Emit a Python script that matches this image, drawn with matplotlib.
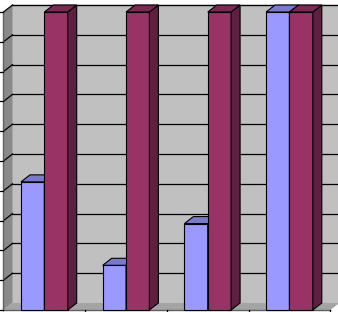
import matplotlib
matplotlib.use("Agg")
import matplotlib.pyplot as plt
from matplotlib.patches import Polygon

# data (axis 0..100)
categories = ["1", "2", "3", "4"]
series_a = [43, 15, 29, 100]
series_b = [100, 100, 100, 100]
grid_values = [10, 20, 30, 40, 50, 60, 70, 80, 90, 100]

# fake 3d depth offset in data units
dx = 0.11
dy = 2.35
w = 1 / 3.5
gap = 0.75 / 3.5

fig = plt.figure(figsize=(3.38, 3.12), dpi=100)
ax = fig.add_axes([0, 0, 1, 1])
ax.set_xlim(-0.0428, 4.094)
ax.set_ylim(-0.67, 104.03)
ax.axis("off")

n = len(categories)
right = 4.2

# walls and floor
ax.add_patch(Polygon([(dx, dy), (right, dy), (right, 100 + dy), (dx, 100 + dy)],
                     closed=True, facecolor="#c0c0c0", edgecolor="none", zorder=1))
ax.plot([dx, right], [100 + dy, 100 + dy], color="#808080", lw=1, zorder=2)
ax.add_patch(Polygon([(0, 0), (dx, dy), (dx, 100 + dy), (0, 100)],
                     closed=True, facecolor="#8a8a8a", edgecolor="none", zorder=1))
ax.add_patch(Polygon([(0, 0), (n, 0), (n + dx, dy), (dx, dy)],
                     closed=True, facecolor="#a4a4a4", edgecolor="none", zorder=1))

# gridlines on back and left wall
for v in grid_values:
    ax.plot([dx, right], [v + dy, v + dy], color="black", lw=0.9, zorder=2)
    ax.plot([0, dx], [v, v + dy], color="black", lw=0.9, zorder=2)

# axes lines and ticks
ax.plot([0, 0], [0, 100], color="#606060", lw=1, zorder=2)
ax.plot([0, n], [0, 0], color="#606060", lw=1, zorder=2)
for v in [0] + grid_values:
    ax.plot([-0.04, 0], [v, v], color="black", lw=0.9, zorder=2)
for i in range(1, n + 1):
    ax.plot([i, i], [0, -0.8], color="black", lw=0.9, zorder=2)


def bar3d(left, v, front, top, side, z):
    ax.bar(left, v, width=w, align="edge", color=front, edgecolor="black",
           linewidth=0.8, zorder=z)
    ax.add_patch(Polygon([(left + w, 0), (left + w + dx, dy), (left + w + dx, v + dy), (left + w, v)],
                         closed=True, facecolor=side, edgecolor="black", lw=0.8, zorder=z))
    ax.add_patch(Polygon([(left, v), (left + w, v), (left + w + dx, v + dy), (left + dx, v + dy)],
                         closed=True, facecolor=top, edgecolor="black", lw=0.8, zorder=z))


z = 3
for i in range(n):
    left = i + gap
    bar3d(left, series_a[i], "#9999ff", "#7a7acc", "#6b6bb3", z)
    z += 1
    bar3d(left + w, series_b[i], "#993366", "#7a2952", "#5e1f40", z)
    z += 1

fig.savefig("out.png", dpi=100)
